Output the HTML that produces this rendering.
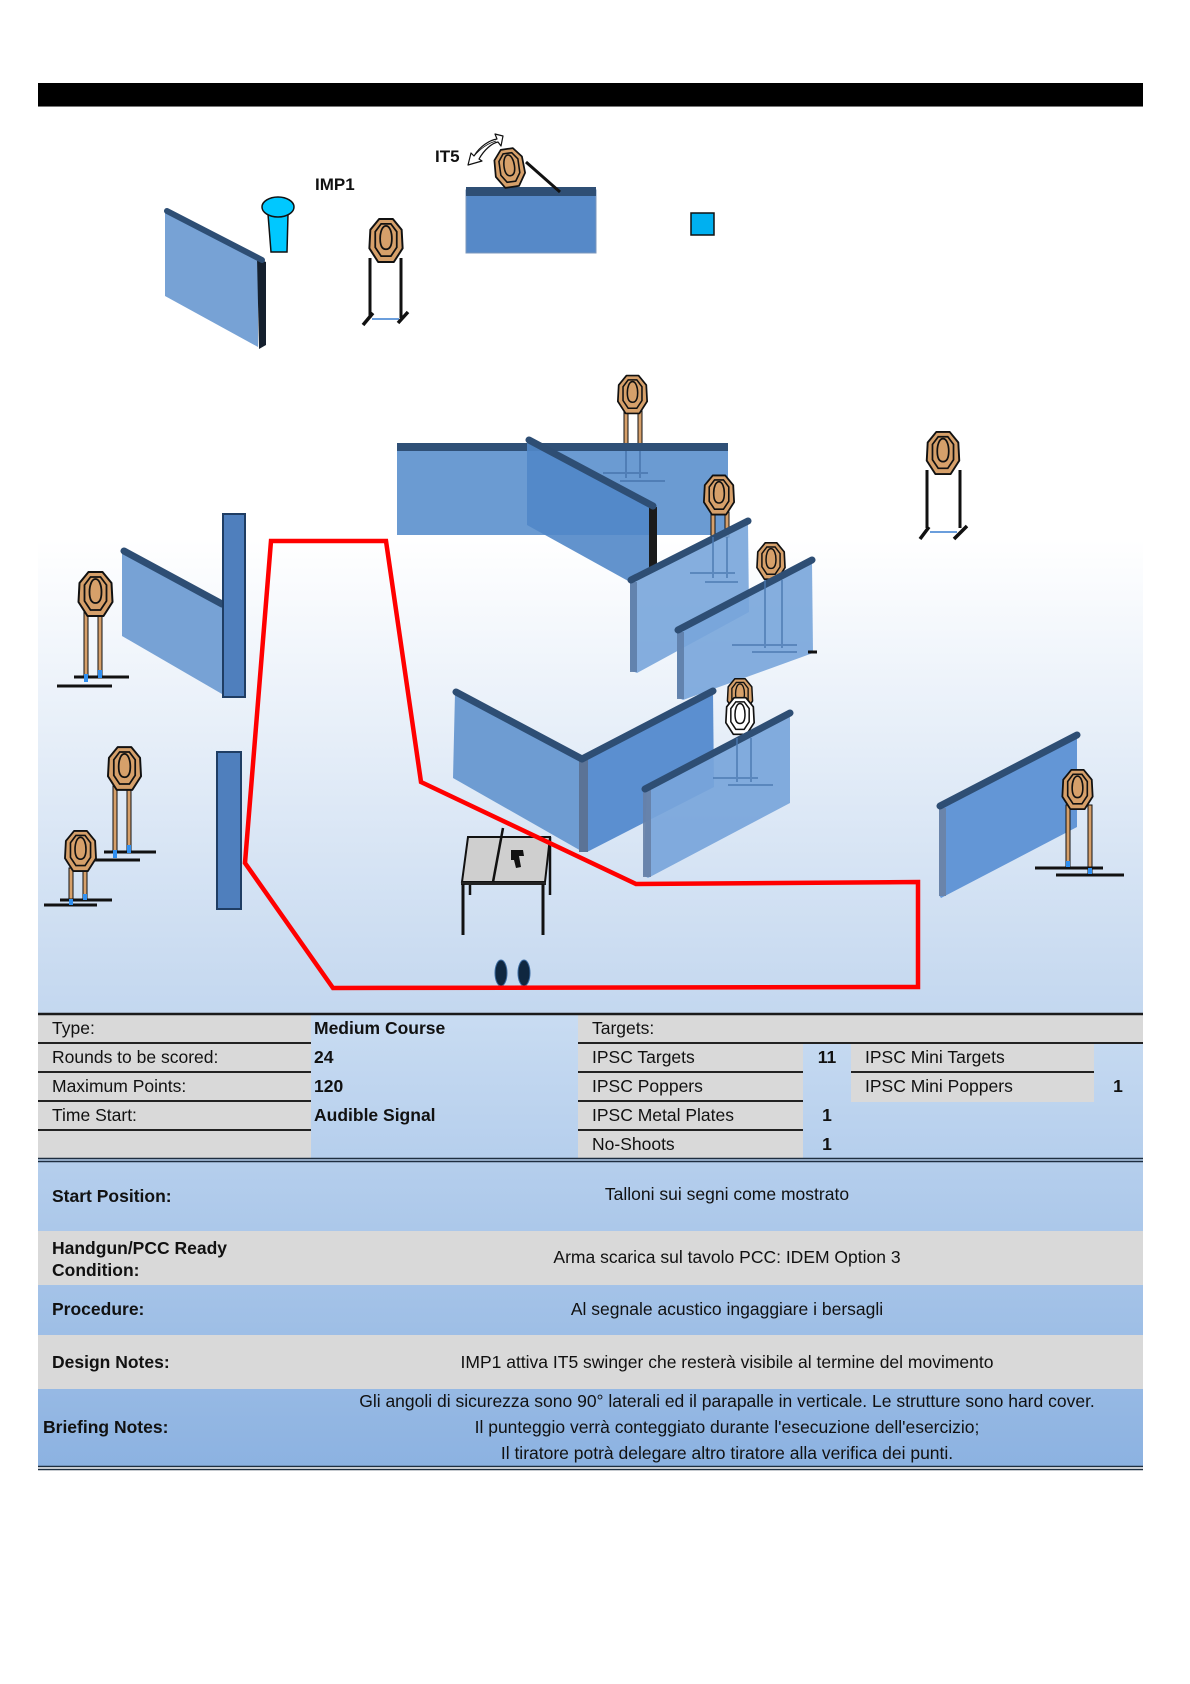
<!DOCTYPE html>
<html><head><meta charset="utf-8"><style>
html,body{margin:0;padding:0;background:#fff;}
svg{display:block;}
text{font-family:"Liberation Sans",Arial,sans-serif;font-size:17.5px;fill:#111;}
.b{font-weight:bold;}
</style></head><body>
<svg width="1190" height="1684" viewBox="0 0 1190 1684" xmlns="http://www.w3.org/2000/svg">
<defs>
<linearGradient id="bg" x1="0" y1="540" x2="0" y2="1014" gradientUnits="userSpaceOnUse">
<stop offset="0" stop-color="#ffffff"/><stop offset="1" stop-color="#c3d7ef"/></linearGradient>
<linearGradient id="tg" x1="0" y1="1014" x2="0" y2="1466" gradientUnits="userSpaceOnUse">
<stop offset="0" stop-color="#c9dcf2"/><stop offset="1" stop-color="#8cb2e1"/></linearGradient>
<symbol id="tgt" viewBox="0 0 36 46" overflow="visible">
<path d="M11,1 L25,1 L34,12 L35,31 L26,45 L10,45 L1,31 L2,12 Z" fill="currentColor" stroke="#111" stroke-width="2" stroke-linejoin="round"/>
<path d="M13,6 L23,6 L29,14 L29,30 L23,39 L13,39 L7,30 L7,14 Z" fill="none" stroke="#111" stroke-width="1.8"/>
<path d="M18,8 C22,8 24,15 24,21 C24,28 22,32 18,32 C14,32 12,28 12,21 C12,15 14,8 18,8 Z" fill="none" stroke="#111" stroke-width="1.8"/>
</symbol>
</defs>

<!-- diagram background -->
<rect x="38" y="106" width="1105" height="908" fill="url(#bg)"/>
<!-- black bar -->
<rect x="38" y="83" width="1105" height="23" fill="#000"/>
<rect x="38" y="106" width="1105" height="1" fill="#777"/>

<!-- ===== TOP AREA ===== -->
<!-- top-left wall -->
<polygon points="165,212 258,260 258,347 165,296" fill="#77a2d5"/>
<polygon points="257,258 266,262 266,345 259,349" fill="#15202e"/>
<line x1="167" y1="211" x2="262" y2="260" stroke="#2e4e74" stroke-width="6" stroke-linecap="round"/>
<!-- popper IMP1 -->
<path d="M268,214 L288,214 L287,252 L271,252 Z" fill="#00c8ff" stroke="#111" stroke-width="1.5"/>
<ellipse cx="278" cy="207" rx="16" ry="10" fill="#00c8ff" stroke="#111" stroke-width="1.5"/>
<text x="315" y="190" class="b" style="font-size:17px">IMP1</text>
<!-- standing target T1 -->
<line x1="370" y1="258" x2="370" y2="318" stroke="#111" stroke-width="3"/>
<line x1="401" y1="258" x2="401" y2="318" stroke="#111" stroke-width="3"/>
<line x1="372" y1="319" x2="399" y2="319" stroke="#3a7fd0" stroke-width="1.5"/>
<line x1="363" y1="325" x2="373" y2="313" stroke="#111" stroke-width="3.5"/>
<line x1="398" y1="323" x2="408" y2="312" stroke="#111" stroke-width="3.5"/>
<use href="#tgt" x="367" y="218" width="38" height="45" color="#d6a06a"/>
<!-- IT5 -->
<text x="435" y="162" class="b" style="font-size:17px">IT5</text>
<path d="M468,165 L471,153 L474,156 C480,146 490,140 497,139 L495,134 L503,136 L501,146 L498,142 C492,143 484,150 479,159 L482,161 Z" fill="#fff" stroke="#111" stroke-width="1.2" stroke-linejoin="round"/>
<path d="M474,156 C481,148 489,143 496,141" fill="none" stroke="#111" stroke-width="0.8"/>
<rect x="466" y="190" width="130" height="63" fill="#5689c8" stroke="#7b97bc" stroke-width="1"/>
<rect x="466" y="187" width="130" height="9" fill="#2f4f75"/>
<line x1="526" y1="162" x2="560" y2="192" stroke="#111" stroke-width="3"/>
<g transform="rotate(-8 509 168)"><use href="#tgt" x="490" y="148" width="39" height="40" color="#d6a06a"/></g>
<!-- blue square -->
<rect x="691" y="213" width="23" height="22" fill="#00b0f0" stroke="#111" stroke-width="1.5"/>

<!-- ===== LEFT SIDE ===== -->
<!-- left wall 1 -->
<polygon points="122,552 222,606 222,694 122,636" fill="#77a2d5"/>
<line x1="124" y1="551" x2="222" y2="604" stroke="#2e4e74" stroke-width="7" stroke-linecap="round"/>
<rect x="223" y="514" width="22" height="183" fill="#4f7fbd" stroke="#1f3d63" stroke-width="2"/>
<!-- bar 2 -->
<rect x="217" y="752" width="24" height="157" fill="#4f7fbd" stroke="#1f3d63" stroke-width="2"/>

<!-- target L1 -->
<g>
<rect x="84" y="612" width="4" height="66" fill="#d6a06a" stroke="#111" stroke-width="1"/>
<rect x="98" y="612" width="4" height="66" fill="#d6a06a" stroke="#111" stroke-width="1"/>
<line x1="74" y1="677" x2="129" y2="677" stroke="#111" stroke-width="3"/>
<line x1="57" y1="686" x2="112" y2="686" stroke="#111" stroke-width="3"/>
<rect x="84" y="674" width="4" height="8" fill="#2f8ff0"/><rect x="98" y="670" width="4" height="8" fill="#2f8ff0"/>
<use href="#tgt" x="77" y="571" width="37" height="46" color="#d6a06a"/>
</g>
<!-- target A -->
<g>
<rect x="113" y="786" width="4" height="66" fill="#d6a06a" stroke="#111" stroke-width="1"/>
<rect x="127" y="786" width="4" height="66" fill="#d6a06a" stroke="#111" stroke-width="1"/>
<line x1="104" y1="852" x2="156" y2="852" stroke="#111" stroke-width="3"/>
<line x1="92" y1="860" x2="140" y2="860" stroke="#111" stroke-width="3"/>
<rect x="113" y="850" width="4" height="8" fill="#2f8ff0"/><rect x="127" y="845" width="4" height="8" fill="#2f8ff0"/>
<use href="#tgt" x="107" y="746" width="35" height="45" color="#d6a06a"/>
</g>
<!-- target B -->
<g>
<rect x="69" y="868" width="4" height="32" fill="#d6a06a" stroke="#111" stroke-width="1"/>
<rect x="83" y="868" width="4" height="32" fill="#d6a06a" stroke="#111" stroke-width="1"/>
<line x1="60" y1="900" x2="112" y2="900" stroke="#111" stroke-width="3"/>
<line x1="44" y1="905" x2="97" y2="905" stroke="#111" stroke-width="3"/>
<rect x="69" y="899" width="4" height="6" fill="#2f8ff0"/><rect x="83" y="894" width="4" height="6" fill="#2f8ff0"/>
<use href="#tgt" x="63" y="830" width="35" height="42" color="#d6a06a"/>
</g>

<!-- ===== CENTRAL COMPLEX ===== -->
<!-- center top target legs -->
<rect x="624" y="410" width="4" height="36" fill="#d6a06a" stroke="#111" stroke-width="1"/>
<rect x="638" y="410" width="4" height="36" fill="#d6a06a" stroke="#111" stroke-width="1"/>
<!-- back wall -->
<rect x="397" y="446" width="331" height="89" fill="#6b9bd2"/>
<rect x="397" y="443" width="331" height="8" fill="#2f5077"/>
<use href="#tgt" x="617" y="373" width="31" height="43" color="#d6a06a"/>
<!-- ghost base on back wall -->
<g stroke="#4a78b0" stroke-width="2" opacity="0.8">
<line x1="626" y1="451" x2="626" y2="478"/><line x1="640" y1="451" x2="640" y2="478"/>
<line x1="603" y1="473" x2="648" y2="473"/><line x1="620" y1="481" x2="665" y2="481"/>
</g>
<!-- wall A -->
<polygon points="527,442 650,508 650,570 630,582 527,525" fill="#5187c8" opacity="0.9"/>
<rect x="649" y="507" width="8" height="61" fill="#1b1b1b"/>
<line x1="529" y1="440" x2="653" y2="506" stroke="#2e4e74" stroke-width="7" stroke-linecap="round"/>
<!-- target B1 legs -->
<rect x="711" y="512" width="4" height="25" fill="#d6a06a" stroke="#111" stroke-width="1"/>
<rect x="725" y="512" width="4" height="25" fill="#d6a06a" stroke="#111" stroke-width="1"/>
<use href="#tgt" x="703" y="473" width="32" height="44" color="#d6a06a"/>
<!-- target B2 (behind wall C) -->
<use href="#tgt" x="750" y="542" width="42" height="38" color="#d6a06a"/>
<!-- wall B -->
<polygon points="630,582 748,523 749,612 637,673 630,670" fill="#78a5da" opacity="0.9"/>
<rect x="630" y="582" width="7" height="90" fill="#5e7ea8" opacity="0.9"/>
<line x1="631" y1="580" x2="748" y2="521" stroke="#2e4e74" stroke-width="7" stroke-linecap="round"/>
<g stroke="#4a78b0" stroke-width="2" opacity="0.7">
<line x1="713" y1="537" x2="713" y2="578"/><line x1="727" y1="537" x2="727" y2="578"/>
<line x1="690" y1="573" x2="735" y2="573"/><line x1="705" y1="582" x2="738" y2="582"/>
</g>
<!-- wall C -->
<polygon points="677,632 812,562 813,653 683,700 677,697" fill="#78a5da" opacity="0.9"/>
<rect x="677" y="632" width="7" height="67" fill="#5e7ea8" opacity="0.9"/>
<line x1="678" y1="630" x2="812" y2="560" stroke="#2e4e74" stroke-width="7" stroke-linecap="round"/>
<g stroke="#4a78b0" stroke-width="2" opacity="0.7">
<line x1="765" y1="580" x2="765" y2="648"/><line x1="782" y1="580" x2="782" y2="648"/>
<line x1="732" y1="645" x2="797" y2="645"/><line x1="752" y1="652" x2="797" y2="652"/>
</g>
<line x1="808" y1="652" x2="817" y2="652" stroke="#111" stroke-width="3"/>
<!-- V wall -->
<polygon points="455,693 582,760 583,852 453,778" fill="#6e9cd2"/>
<polygon points="583,760 713,692 714,787 587,852" fill="#5b8fd0"/>
<rect x="579" y="760" width="9" height="92" fill="#5b7396"/>
<polyline points="456,692 582,759 713,691" fill="none" stroke="#2e4e74" stroke-width="7" stroke-linecap="round" stroke-linejoin="round"/>
<!-- target C tan + no-shoot -->
<use href="#tgt" x="725" y="678" width="30" height="34" color="#d6a06a"/>
<use href="#tgt" x="725" y="696" width="30" height="40" color="#ffffff"/>
<!-- wall D -->
<polygon points="647,790 790,715 790,803 648,878 643,875" fill="#78a5da" opacity="0.92"/>
<rect x="643" y="790" width="8" height="87" fill="#6680a6" opacity="0.9"/>
<line x1="645" y1="789" x2="790" y2="713" stroke="#2e4e74" stroke-width="7" stroke-linecap="round"/>
<g stroke="#4a78b0" stroke-width="2" opacity="0.7">
<line x1="737" y1="738" x2="737" y2="782"/><line x1="751" y1="738" x2="751" y2="782"/>
<line x1="713" y1="778" x2="758" y2="778"/><line x1="728" y1="785" x2="773" y2="785"/>
</g>

<!-- ===== RIGHT SIDE ===== -->
<!-- far right standing target -->
<line x1="927" y1="470" x2="927" y2="528" stroke="#111" stroke-width="3"/>
<line x1="960" y1="470" x2="960" y2="528" stroke="#111" stroke-width="3"/>
<line x1="930" y1="532" x2="957" y2="532" stroke="#3a7fd0" stroke-width="1.5"/>
<line x1="920" y1="539" x2="929" y2="527" stroke="#111" stroke-width="3.5"/>
<line x1="954" y1="539" x2="967" y2="526" stroke="#111" stroke-width="3.5"/>
<use href="#tgt" x="924" y="431" width="38" height="44" color="#d6a06a"/>
<!-- right wall -->
<polygon points="939,808 1077,737 1077,827 941,898 939,895" fill="#6396d6"/>
<rect x="939" y="808" width="7" height="88" fill="#6a84aa"/>
<line x1="940" y1="806" x2="1077" y2="735" stroke="#2e4e74" stroke-width="7" stroke-linecap="round"/>
<!-- right wall target -->
<rect x="1066" y="805" width="4" height="64" fill="#d6a06a" stroke="#111" stroke-width="1"/>
<rect x="1088" y="805" width="4" height="68" fill="#d6a06a" stroke="#111" stroke-width="1"/>
<line x1="1035" y1="868" x2="1103" y2="868" stroke="#111" stroke-width="3"/>
<line x1="1056" y1="875" x2="1124" y2="875" stroke="#111" stroke-width="3"/>
<rect x="1066" y="861" width="4" height="6" fill="#2f8ff0"/><rect x="1088" y="868" width="4" height="6" fill="#2f8ff0"/>
<use href="#tgt" x="1055" y="769" width="45" height="41" color="#d6a06a"/>

<!-- ===== TABLE (furniture) ===== -->
<line x1="470" y1="880" x2="470" y2="895" stroke="#111" stroke-width="2.5"/>
<line x1="550" y1="837" x2="550" y2="895" stroke="#111" stroke-width="2.5"/>
<polygon points="468,837 550,837 545,882 462,882" fill="#cfcfcf" stroke="#111" stroke-width="2"/>
<rect x="461" y="882" width="85" height="3" fill="#222"/>
<line x1="463" y1="884" x2="463" y2="935" stroke="#111" stroke-width="3"/>
<line x1="543" y1="884" x2="543" y2="935" stroke="#111" stroke-width="3"/>
<line x1="503" y1="828" x2="493" y2="882" stroke="#111" stroke-width="2.5"/>
<path d="M511,850 L523,850 L524,856 L519,856 L521,867 L516,868 L514,860 L511,860 Z" fill="#111"/>
<!-- footprints -->
<ellipse cx="501" cy="973" rx="6" ry="13" fill="#0f2740" stroke="#3a6aa0" stroke-width="1"/>
<ellipse cx="524" cy="973" rx="6" ry="13" fill="#0f2740" stroke="#3a6aa0" stroke-width="1"/>

<!-- red path -->
<polygon points="271,541 386,541 421,782 636,884 918,882 918,987 333,988 245,863" fill="none" stroke="#ff0000" stroke-width="4.5" stroke-linejoin="miter"/>

<!-- ===== INFO TABLE ===== -->
<rect x="38" y="1014" width="1105" height="452" fill="url(#tg)"/>
<rect x="38" y="1014" width="273" height="144" fill="#d9d9d9"/>
<rect x="578" y="1014" width="565" height="29" fill="#d9d9d9"/>
<rect x="578" y="1043" width="225" height="115" fill="#d9d9d9"/>
<rect x="851" y="1043" width="243" height="59" fill="#d9d9d9"/>
<rect x="38" y="1231" width="1105" height="54" fill="#d9d9d9"/>
<rect x="38" y="1335" width="1105" height="54" fill="#d9d9d9"/>
<g stroke="#1a1a1a" stroke-width="2.5">
<line x1="38" y1="1014" x2="1143" y2="1014"/>
</g>
<g stroke="#222" stroke-width="2">
<line x1="38" y1="1043" x2="311" y2="1043"/><line x1="578" y1="1043" x2="1143" y2="1043"/>
<line x1="38" y1="1072" x2="311" y2="1072"/><line x1="578" y1="1072" x2="803" y2="1072"/><line x1="851" y1="1072" x2="1094" y2="1072"/>
<line x1="38" y1="1101" x2="311" y2="1101"/><line x1="578" y1="1101" x2="803" y2="1101"/>
<line x1="38" y1="1130" x2="311" y2="1130"/><line x1="578" y1="1130" x2="803" y2="1130"/>
</g>
<g stroke="#1e2e40" stroke-width="1.6">
<line x1="38" y1="1158.5" x2="1143" y2="1158.5"/><line x1="38" y1="1161.5" x2="1143" y2="1161.5"/>
<line x1="38" y1="1466.5" x2="1143" y2="1466.5"/><line x1="38" y1="1469.5" x2="1143" y2="1469.5"/>
</g>

<text x="52" y="1034">Type:</text>
<text x="52" y="1063">Rounds to be scored:</text>
<text x="52" y="1092">Maximum Points:</text>
<text x="52" y="1121">Time Start:</text>
<text x="314" y="1034" class="b">Medium Course</text>
<text x="314" y="1063" class="b">24</text>
<text x="314" y="1092" class="b">120</text>
<text x="314" y="1121" class="b">Audible Signal</text>
<text x="592" y="1034">Targets:</text>
<text x="592" y="1063">IPSC Targets</text>
<text x="592" y="1092">IPSC Poppers</text>
<text x="592" y="1121">IPSC Metal Plates</text>
<text x="592" y="1150">No-Shoots</text>
<text x="827" y="1063" class="b" text-anchor="middle">11</text>
<text x="827" y="1121" class="b" text-anchor="middle">1</text>
<text x="827" y="1150" class="b" text-anchor="middle">1</text>
<text x="865" y="1063">IPSC Mini Targets</text>
<text x="865" y="1092">IPSC Mini Poppers</text>
<text x="1118" y="1092" class="b" text-anchor="middle">1</text>

<text x="52" y="1202" class="b">Start Position:</text>
<text x="727" y="1200" text-anchor="middle">Talloni sui segni come mostrato</text>
<text x="52" y="1254" class="b">Handgun/PCC Ready</text>
<text x="52" y="1276" class="b">Condition:</text>
<text x="727" y="1263" text-anchor="middle">Arma scarica sul tavolo PCC: IDEM Option 3</text>
<text x="52" y="1315" class="b">Procedure:</text>
<text x="727" y="1315" text-anchor="middle">Al segnale acustico ingaggiare i bersagli</text>
<text x="52" y="1368" class="b">Design Notes:</text>
<text x="727" y="1368" text-anchor="middle">IMP1 attiva IT5 swinger che resterà visibile al termine del movimento</text>
<text x="43" y="1433" class="b">Briefing Notes:</text>
<text x="727" y="1407" text-anchor="middle">Gli angoli di sicurezza sono 90° laterali ed il parapalle in verticale. Le strutture sono hard cover.</text>
<text x="727" y="1433" text-anchor="middle">Il punteggio verrà conteggiato durante l'esecuzione dell'esercizio;</text>
<text x="727" y="1459" text-anchor="middle">Il tiratore potrà delegare altro tiratore alla verifica dei punti.</text>
</svg>
</body></html>
